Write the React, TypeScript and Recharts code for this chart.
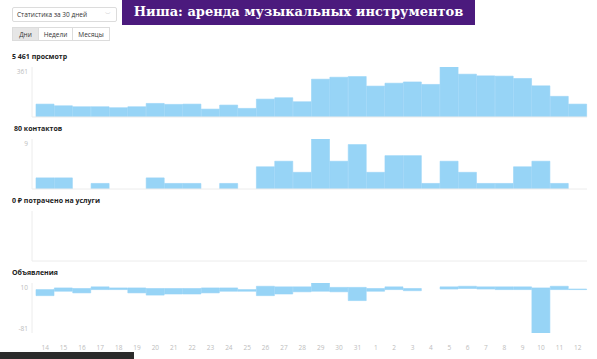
import React from 'react';
import { BarChart, Bar, XAxis, YAxis } from 'recharts';

// Days of the 30-day window
const days = [
  '14', '15', '16', '17', '18', '19', '20', '21', '22', '23', '24', '25', '26', '27', '28',
  '29', '30', '31', '1', '2', '3', '4', '5', '6', '7', '8', '9', '10', '11', '12',
];

// Views per day
const views = [
  93, 81, 74, 74, 67, 74, 98, 91, 93, 57, 86, 62, 129, 139, 110,
  273, 287, 292, 223, 244, 253, 235, 361, 309, 297, 295, 278, 225, 149, 93,
];

// Contacts per day
const contacts = [
  2, 2, 0, 1, 0, 0, 2, 1, 1, 0, 1, 0, 4, 5, 3,
  9, 5, 8, 3, 6, 6, 1, 5, 3, 1, 1, 4, 5, 1, 0,
];

// Money spent on services per day
const spend = [
  0, 0, 0, 0, 0, 0, 0, 0, 0, 0, 0, 0, 0, 0, 0,
  0, 0, 0, 0, 0, 0, 0, 0, 0, 0, 0, 0, 0, 0, 0,
];

// Listings: daily low / high range
const adsLow = [
  -13, -5, -8, -2, -2, -8, -12, -10, -10, -8, -5, -5, -13, -10, -6,
  -5, -6, -22, -5, -2, -4, 0, -1, 0, -1, -2, -2, -81, -2, -2,
];
const adsHigh = [
  -2, 1, 0, 3, 1, 1, 0, 0, 0, 1, 1, -2, 4, 3, 3,
  10, 2, 2, 0, 3, 0, 0, 3, 4, 3, 3, 3, 1, 4, -1,
];

const BAR = '#97d4f6';
const AXIS = '#ececec';
const TICK = '#bdbdbd';
const FONT = '"Open Sans", "Noto Sans", sans-serif';

const viewsData = days.map((d, i) => ({ day: d, value: views[i] }));
const contactsData = days.map((d, i) => ({ day: d, value: contacts[i] }));
const spendData = days.map((d, i) => ({ day: d, value: spend[i] }));
const adsData = days.map((d, i) => ({ day: d, value: [adsLow[i], adsHigh[i]] }));

// y labels sit slightly inside the plot: top one nudged down, bottom one up
function makeEdgeTick(max: number) {
  return (props: any) => {
    const { x, y, payload } = props;
    const dy = payload.value === max ? 3 : -4;
    return (
      <text x={x} y={y + dy} textAnchor="end" dominantBaseline="middle" fontSize={6.5} fill={TICK} fontFamily={FONT}>
        {payload.value}
      </text>
    );
  };
}

interface PanelProps {
  top: number;
  height: number;
  data: any[];
  domain: [number, number];
  ticks?: number[];
  showDays?: boolean;
}

function Panel({ top, height, data, domain, ticks, showDays = false }: PanelProps) {
  return (
    <div style={{ position: 'absolute', left: 0, top }}>
      <BarChart
        width={597}
        height={height}
        data={data}
        barCategoryGap={0}
        margin={{ top: 7, right: 10, bottom: 2, left: 0 }}
      >
        <XAxis
          dataKey="day"
          height={showDays ? 21 : 1}
          padding={{ left: 4, right: 0 }}
          axisLine={showDays ? false : { stroke: AXIS }}
          tickLine={false}
          tick={showDays ? { fontSize: 6.5, fill: TICK, fontFamily: FONT } : false}
          tickSize={0}
          tickMargin={12}
          interval={0}
        />
        <YAxis
          width={32}
          domain={domain}
          ticks={ticks}
          axisLine={{ stroke: AXIS }}
          tickLine={false}
          tickSize={0}
          tickMargin={4}
          tick={ticks ? makeEdgeTick(domain[1]) : false}
          allowDataOverflow
        />
        {/* thin matching stroke closes the hairline seams between adjacent bars */}
        <Bar dataKey="value" fill={BAR} stroke={BAR} strokeWidth={0.6} isAnimationActive={false} />
      </BarChart>
    </div>
  );
}

const titleStyle: React.CSSProperties = {
  position: 'absolute',
  fontFamily: FONT,
  fontWeight: 700,
  fontSize: 7,
  color: '#222',
  lineHeight: '10px',
};

const btnStyle: React.CSSProperties = {
  position: 'absolute',
  top: 27,
  height: 14,
  lineHeight: '14px',
  fontSize: 6.5,
  fontFamily: FONT,
  color: '#333',
  textAlign: 'center',
  border: '1px solid #dcdcdc',
  boxSizing: 'border-box',
};

export default function App() {
  return (
    <div style={{ position: 'absolute', left: 0, top: 0, width: 597, height: 359, background: '#fff', overflow: 'hidden' }}>
      {/* period selector */}
      <div
        style={{
          position: 'absolute', left: 12, top: 7, width: 105, height: 15,
          border: '1px solid #dcdcdc', borderRadius: 2, boxSizing: 'border-box',
          fontFamily: FONT, fontSize: 6.5, lineHeight: '13px', paddingLeft: 4, color: '#333',
        }}
      >
        Статистика за 30 дней
        <span style={{ position: 'absolute', right: 5, top: 0, color: '#aaa', fontSize: 6 }}>﹀</span>
      </div>

      {/* headline banner */}
      <div
        style={{
          position: 'absolute', left: 122, top: 0, width: 353, height: 25,
          background: '#4b1a7d', color: '#fff', fontFamily: '"DejaVu Serif", serif',
          fontWeight: 700, fontSize: 13, lineHeight: '23px', textAlign: 'center', whiteSpace: 'nowrap',
        }}
      >
        Ниша: аренда музыкальных инструментов
      </div>

      {/* day / week / month toggle */}
      <div style={{ ...btnStyle, left: 12, width: 27, background: '#e6e6e6' }}>Дни</div>
      <div style={{ ...btnStyle, left: 38, width: 35 }}>Недели</div>
      <div style={{ ...btnStyle, left: 72, width: 38 }}>Месяцы</div>

      <div style={{ ...titleStyle, left: 12, top: 52 }}>5 461 просмотр</div>
      <Panel top={60} height={60} data={viewsData} domain={[0, 361]} ticks={[0, 361]} />

      <div style={{ ...titleStyle, left: 14, top: 124 }}>80 контактов</div>
      <Panel top={132} height={60} data={contactsData} domain={[0, 9]} ticks={[0, 9]} />

      <div style={{ ...titleStyle, left: 12, top: 196 }}>0 ₽ потрачено на услуги</div>
      <Panel top={204} height={60} data={spendData} domain={[0, 1]} />

      <div style={{ ...titleStyle, left: 12, top: 268 }}>Объявления</div>
      <Panel top={276} height={80} data={adsData} domain={[-81, 10]} ticks={[-81, 10]} showDays />

      {/* dark strip in the bottom-left corner */}
      <div style={{ position: 'absolute', left: 0, top: 352, width: 134, height: 7, background: '#2b2b2b' }} />
    </div>
  );
}
